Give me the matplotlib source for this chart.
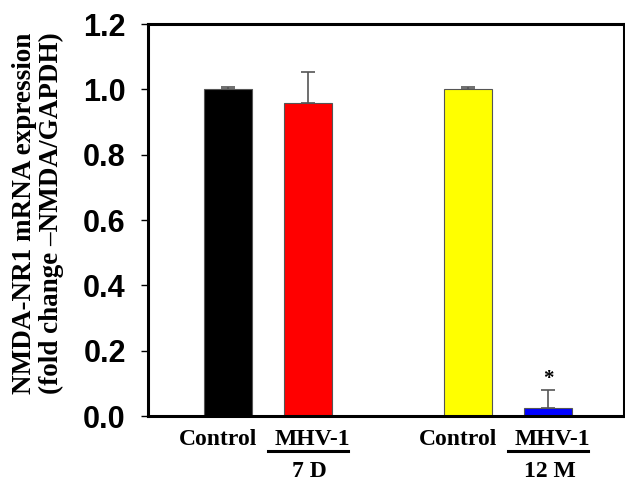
import numpy as np
import matplotlib
matplotlib.use('Agg')
import matplotlib.pyplot as plt

# data
positions = [1, 2, 4, 5]
values = [1.0, 0.959, 1.0, 0.024]
errors = [0.007, 0.093, 0.007, 0.055]
colors = ['#000000', '#ff0000', '#ffff00', '#0000ff']
group_labels = ['7 D', '12 M']
yticks = [0.0, 0.2, 0.4, 0.6, 0.8, 1.0, 1.2]

serif = 'Liberation Serif'
sans = 'Liberation Sans'

fig = plt.figure(figsize=(6.25, 4.82), dpi=100)
ax = fig.add_axes([148 / 625, 66 / 482, 476 / 625, 392 / 482])

ax.bar(positions, values, width=0.6, color=colors, edgecolor='#555555', linewidth=0.8, zorder=2)
ax.errorbar(positions, values, yerr=[np.zeros(len(errors)), errors], fmt='none',
            ecolor='#555555', elinewidth=1.2, capsize=5, capthick=1.2, zorder=1)

# significance mark over the 12 M infected bar
ax.annotate('*', xy=(positions[3], values[3] + errors[3]), xytext=(0, 1),
            textcoords='offset points', ha='center', va='bottom',
            fontsize=15, fontweight='bold', family=serif)

ax.set_xlim(0, 5.95)
ax.set_ylim(0, 1.2)
ax.set_yticks(yticks)
ax.set_yticklabels(['%.1f' % t for t in yticks], fontsize=22, fontweight='bold', family=sans)
ax.tick_params(axis='y', direction='out', length=5, width=1, pad=11)
ax.set_xticks([])
for sp in ax.spines.values():
    sp.set_linewidth(2.2)

ax.set_ylabel('NMDA-NR1 mRNA expression\n(fold change \u2013NMDA/GAPDH)',
              fontsize=19.5, fontweight='bold', family=serif, linespacing=1.1)
ax.yaxis.set_label_coords(-0.176, 0.518)

# group labels below the axis
trans = ax.get_xaxis_transform()
lab_kw = dict(fontsize=17, fontweight='bold', family=serif, ha='center', va='baseline',
              transform=trans, clip_on=False)
y_top = (416 - 445) / 392
y_bot = (416 - 477) / 392
y_line = (416 - 451) / 392
for i, grp in enumerate(group_labels):
    xc = positions[2 * i]
    xi = positions[2 * i + 1]
    ax.text(xc - 0.13, y_top, 'Control', **lab_kw)
    ax.text(xi + 0.05, y_top, 'MHV-1', **lab_kw)
    ax.text(xi + 0.02, y_bot, grp, **lab_kw)
    ax.plot([xi - 0.5, xi + 0.5], [y_line, y_line], color='black', lw=2.2,
            transform=trans, clip_on=False)

fig.savefig('out.png', dpi=100)
